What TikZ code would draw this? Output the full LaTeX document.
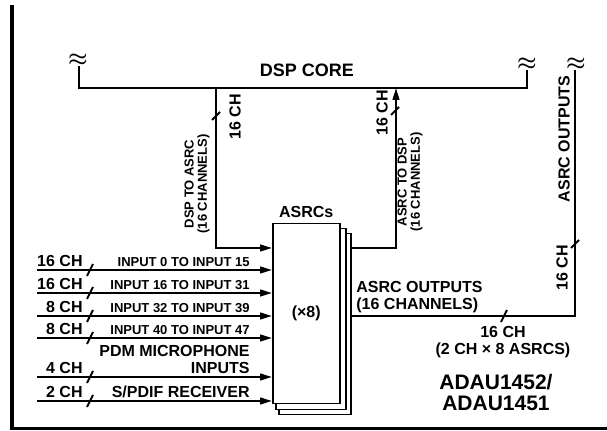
\documentclass[tikz,border=0pt]{standalone}
\usepackage{fontspec}
\setmainfont{Liberation Sans}
\usetikzlibrary{arrows.meta, positioning}

\tikzset{
    bus/.style={line width=1pt},
    flow/.style={line width=1pt, -{Triangle[length=6pt, width=3.4pt]}},
    box/.style={draw, fill=white, line width=0.75pt, inner sep=0pt, anchor=north west},
    lbl/.style={font=\fontsize{8}{8.5}\selectfont\bfseries, inner sep=0pt},
    small/.style={font=\fontsize{6.5}{6.6}\selectfont\bfseries, inner sep=0pt},
    wave/.style={font=\fontsize{11}{11}\selectfont\boldmath, inner sep=0pt},
    chtick/.style={line width=0.9pt}
}
\newcommand{\chcuth}[1]{\draw[chtick] (#1) ++(-3,6) -- ++(6,-12);}
\newcommand{\chcutv}[1]{\draw[chtick] (#1) ++(-4,4) -- ++(8,-8);}

\begin{document}
\begin{tikzpicture}[x=0.5pt, y=-0.5pt]
    \useasboundingbox (0,0) rectangle (607,431);
    \draw[line width=1.5pt] (12,5) -- (12,429) -- (607,429);

    % DSP core bus
    \coordinate (coreL) at (79,66);
    \coordinate (coreR) at (527,70);
    \coordinate (busL) at (79,88);
    \coordinate (busR) at (527,88);
    \draw[bus] (coreL) -- (busL) -- (busR) -- (coreR);
    \node[wave] (waveL) at (78,60) {$\approx$};
    \node[wave] (waveR) at (527,64) {$\approx$};
    \node[font=\fontsize{9}{9}\selectfont\bfseries] (core) at (307,70) {DSP CORE};

    % ASRC stack
    \node[box, minimum width=36pt, minimum height=90.5pt] (asrcC) at (278,233) {};
    \node[box, minimum width=35pt, minimum height=90.5pt] (asrcB) at (275,228) {};
    \node[box, minimum width=33.5pt, minimum height=90pt, font=\fontsize{8}{8}\selectfont\bfseries] (asrc) at (272,223) {(×8)};
    \node[lbl, above=2.5pt of asrc] (asrclbl) {ASRCs};

    % DSP to ASRC
    \coordinate (tapA) at (216,88);
    \coordinate (bendA) at (216,248);
    \draw[flow] (tapA) -- (bendA) -- (bendA -| asrc.west);
    \chcutv{216,116}
    \node[lbl, rotate=90] (chA) at (235,117) {16 CH};
    \node[small, rotate=90, align=center] (dspasrc) at (197,184) {DSP TO ASRC\\(16 CHANNELS)};

    % ASRC to DSP
    \coordinate (tapB) at (396,88);
    \coordinate (bendB) at (396,248);
    \draw[flow] (bendB -| asrcC.east) -- (bendB) -- (tapB);
    \chcutv{395,111}
    \node[lbl, rotate=90] (chB) at (382,113) {16 CH};
    \node[small, rotate=90, align=center] (asrcdsp) at (410,182) {ASRC TO DSP\\(16 CHANNELS)};

    % inputs
    \foreach \y/\ch/\txt/\sty [count=\k] in {
        270/16 CH/INPUT 0 TO INPUT 15/small,
        293/16 CH/INPUT 16 TO INPUT 31/small,
        316/8 CH/INPUT 32 TO INPUT 39/small,
        338/8 CH/INPUT 40 TO INPUT 47/small,
        377/4 CH/{PDM MICROPHONE\\INPUTS}/lbl,
        401/2 CH/{S/PDIF RECEIVER}/lbl} {
        \coordinate (in\k) at (37,\y);
        \draw[flow] (in\k) -- (in\k -| asrc.west);
        \chcuth{90,\y}
        \node[lbl, anchor=south east] (ch\k) at (83,\y-3) {\ch};
        \node[\sty, anchor=south east, align=right] (txt\k) at (250,\y-3) {\txt};
    }

    % ASRC outputs
    \coordinate (outC) at (575,316);
    \coordinate (outTop) at (575,70);
    \draw[bus] (asrcC.east |- outC) -- (outC) -- (outTop);
    \node[wave] (waveO) at (576,64) {$\approx$};
    \chcuth{504,316}
    \chcutv{575,244}
    \node[lbl, rotate=90] (chC) at (562,268) {16 CH};
    \node[lbl, rotate=90] (asrcout) at (564,139) {ASRC OUTPUTS};
    \node[lbl, align=left, anchor=west] (outlbl) at (356,297) {ASRC OUTPUTS\\(16 CHANNELS)};
    \node[lbl, align=center] (outch) at (503,342) {16 CH\\(2 CH × 8 ASRCS)};
    \node[font=\fontsize{10.5}{10.5}\selectfont\bfseries, align=center] (part) at (496,393) {ADAU1452/\\ADAU1451};
\end{tikzpicture}
\end{document}
